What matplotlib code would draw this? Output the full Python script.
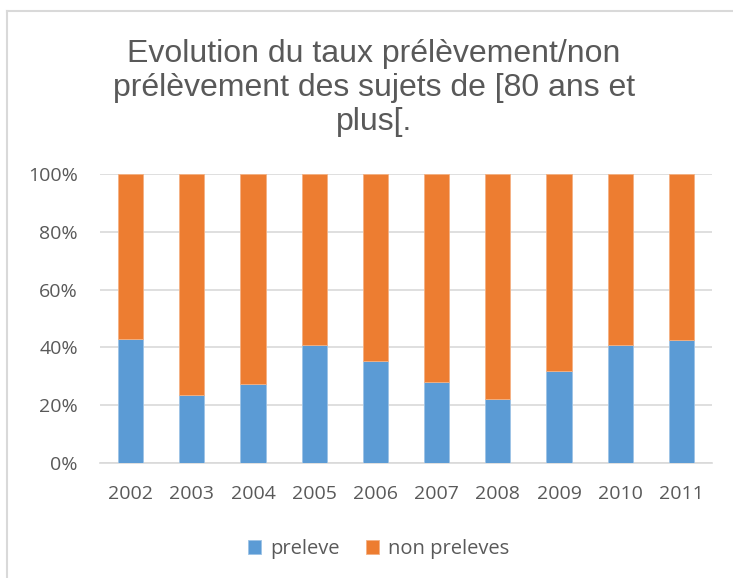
import matplotlib
matplotlib.use('Agg')
import matplotlib.pyplot as plt
from matplotlib.lines import Line2D
import numpy as np

years = ['2002', '2003', '2004', '2005', '2006', '2007', '2008', '2009', '2010', '2011']
preleve = [42.8, 23.7, 27.2, 41.0, 35.2, 28.0, 22.1, 31.7, 40.7, 42.6]
non_preleves = [100 - v for v in preleve]

plt.rcParams['font.family'] = ['Open Sans', 'DejaVu Sans']
grey = '#595959'

fig = plt.figure(figsize=(7.33, 5.78), dpi=100)
ax = fig.add_axes([100 / 733, 1 - 463 / 578, 612 / 733, 289 / 578])

x = np.arange(len(years))
w = 0.41
ax.bar(x, preleve, w, color='#5B9BD5', edgecolor='#9DC3E6', linewidth=0.6, label='preleve', zorder=3)
ax.bar(x, non_preleves, w, bottom=preleve, color='#ED7D31', edgecolor='#F4B183', linewidth=0.6,
       label='non preleves', zorder=3)

ax.set_xlim(-0.5, len(years) - 0.5)
ax.set_ylim(0, 100)
ax.set_yticks(range(0, 101, 20))
ax.set_yticklabels(['%d%%' % v for v in range(0, 101, 20)])
ax.set_xticks(x)
ax.set_xticklabels(years)
ax.tick_params(length=0, colors=grey, labelsize=14)
ax.tick_params(axis='y', pad=16)
ax.tick_params(axis='x', pad=16)
ax.yaxis.grid(True, color='#D9D9D9', linewidth=1.2, zorder=0)
for s in ['top', 'right', 'left']:
    ax.spines[s].set_visible(False)
ax.spines['bottom'].set_color('#D9D9D9')
ax.spines['bottom'].set_linewidth(1.2)

fig.text(0.510, 1 - 88 / 578, "Evolution du taux prélèvement/non\nprélèvement des sujets de [80 ans et\nplus[.",
         ha='center', va='center', fontsize=23, color=grey, linespacing=1.17,
         family=['Liberation Sans', 'DejaVu Sans'])

leg = fig.legend(loc='center', bbox_to_anchor=(0.517, 1 - 549 / 578), ncol=2, frameon=False,
                 fontsize=14.5, handlelength=0.65, handleheight=0.65, columnspacing=1.3, handletextpad=0.45)
for t in leg.get_texts():
    t.set_color(grey)

# chart border (only top and left edges are visible in the crop)
top_y = 1 - 10.5 / 578
left_x = 6.5 / 733
fig.add_artist(Line2D([left_x, 1], [top_y, top_y], transform=fig.transFigure, color='#D9D9D9', linewidth=1.5))
fig.add_artist(Line2D([left_x, left_x], [0, top_y], transform=fig.transFigure, color='#D9D9D9', linewidth=1.5))

fig.savefig('out.png', dpi=100)
